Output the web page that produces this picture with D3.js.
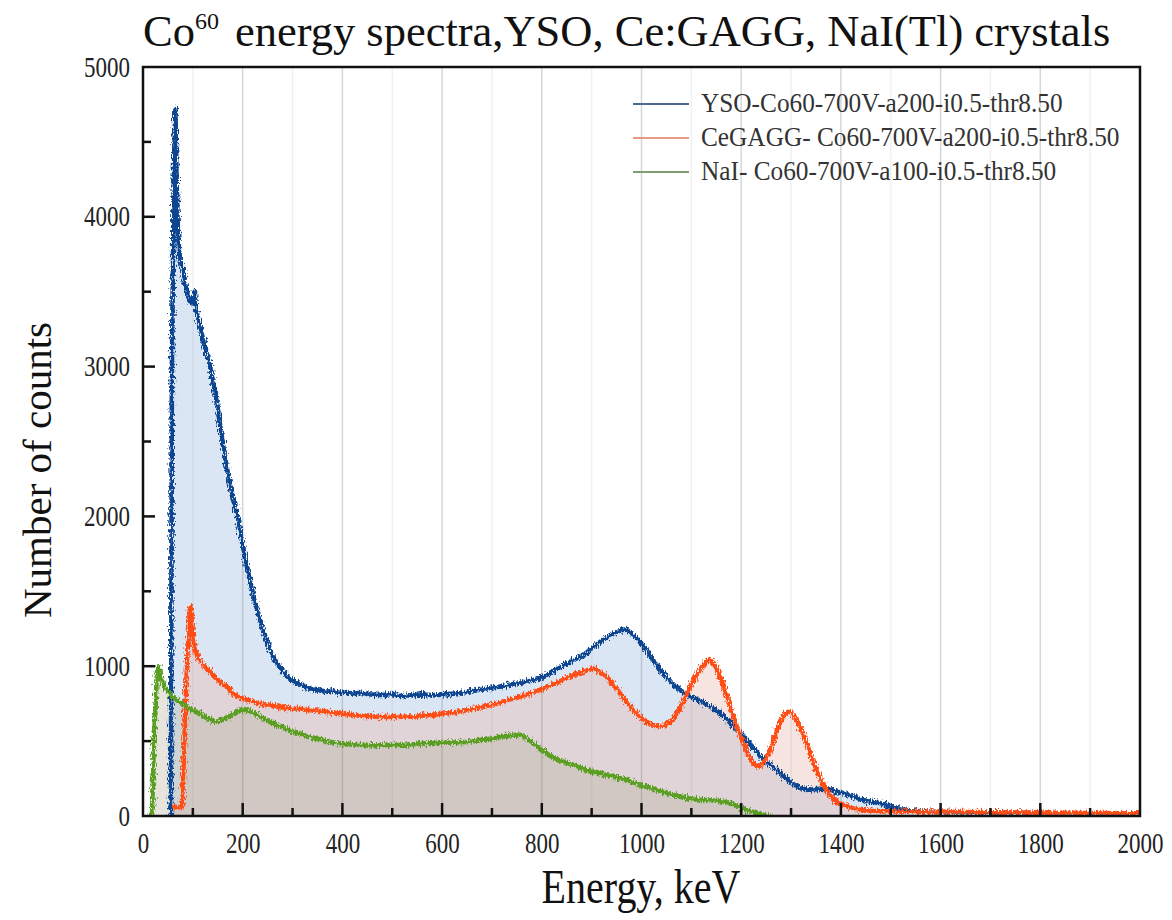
<!DOCTYPE html>
<html>
<head>
<meta charset="utf-8">
<script src="https://cdn.jsdelivr.net/npm/d3@7"></script>
<style>
  html, body { margin: 0; padding: 0; background: #fff; }
  svg { display: block; }
  svg text { font-family: "Liberation Serif", "DejaVu Serif", serif; }
</style>
</head>
<body>
<svg id="chart" width="1172" height="920"></svg>
<script>
// Co-60 spectra, energy (keV) and number of counts for each crystal
const ysoEnergy = [56,58,62,65,67,70,73,76,80,84,88,92,96,100,104,107,110,114,118,122,126,130,134,138,142,146,150,155,160,165,170,175,180,185,190,195,200,205,210,215,220,225,230,235,240,245,250,255,260,265,270,275,280,285,290,295,300,310,320,330,340,350,360,370,380,390,400,420,440,460,480,500,510,520,540,560,580,600,620,640,660,680,700,720,740,760,780,800,820,840,860,880,900,920,940,960,970,980,990,1000,1010,1020,1030,1040,1050,1060,1070,1080,1090,1100,1110,1120,1130,1140,1150,1160,1170,1180,1190,1200,1210,1220,1230,1240,1250,1260,1270,1280,1290,1300,1310,1320,1330,1340,1350,1360,1370,1380,1390,1400,1420,1440,1460,1480,1500,1520,1540,1560,1580,1600,1700,1800,1900,2000];
const ysoCounts = [0,3000,4300,4720,4300,3900,3750,3700,3640,3560,3500,3470,3430,3420,3500,3380,3330,3280,3220,3160,3110,3060,3020,2940,2870,2800,2720,2600,2490,2390,2290,2210,2130,2060,1990,1900,1810,1720,1640,1570,1490,1420,1370,1310,1250,1200,1160,1110,1070,1040,1010,990,970,950,930,915,905,885,870,855,845,840,835,830,838,822,825,818,822,810,808,815,805,800,808,812,805,812,815,825,835,845,858,865,880,890,905,925,960,1000,1035,1070,1120,1170,1210,1240,1245,1215,1190,1150,1110,1060,1010,965,930,890,860,835,815,795,780,765,745,725,705,680,650,615,580,545,510,470,430,395,360,340,310,280,250,225,198,185,178,175,180,182,178,175,165,155,135,110,95,85,65,45,36,32,28,26,22,20,18,15];

const gaggEnergy = [60,65,70,75,78,82,86,90,94,96,98,101,104,108,112,116,120,125,130,135,140,145,150,160,170,180,190,200,210,220,230,240,250,260,270,280,290,300,320,340,360,380,400,420,440,460,480,500,520,540,560,580,600,620,640,660,680,700,720,740,760,780,800,820,840,860,880,900,910,920,930,940,950,960,970,980,990,1000,1010,1020,1030,1040,1050,1060,1070,1080,1090,1100,1110,1120,1130,1135,1140,1150,1160,1170,1180,1190,1200,1210,1220,1230,1240,1250,1260,1270,1280,1290,1295,1300,1310,1320,1330,1340,1350,1360,1370,1380,1390,1400,1420,1440,1460,1500,1600,1700,1800,1900,2000];
const gaggCounts = [55,62,60,58,60,400,800,1150,1390,1400,1300,1180,1120,1080,1050,1030,1010,995,980,960,945,925,910,885,860,820,795,785,775,765,752,748,740,735,730,725,722,718,715,705,700,690,682,675,668,665,662,662,663,665,670,675,682,690,700,715,728,742,760,780,800,820,845,875,905,935,960,985,980,955,930,890,850,805,760,720,685,655,630,610,600,600,612,635,680,740,810,880,940,990,1030,1045,1035,990,910,810,710,610,520,440,370,330,340,380,460,560,640,690,695,690,650,580,500,400,310,240,180,130,100,80,55,40,35,30,28,25,22,20,18];

const naiEnergy = [18,22,28,31,35,40,47,55,65,80,95,110,125,140,150,160,170,180,190,200,210,220,235,250,275,300,325,350,375,400,425,450,475,500,525,550,575,600,625,650,675,700,720,740,755,765,780,800,820,840,860,880,900,920,940,960,980,1000,1020,1040,1060,1080,1100,1120,1140,1160,1180,1200,1220,1240,1260];
const naiCounts = [0,500,960,1000,930,880,840,810,780,745,715,690,660,635,628,640,660,675,700,710,705,690,665,635,598,565,540,515,495,480,476,473,472,474,476,480,486,490,490,495,505,518,530,540,542,530,495,440,395,365,345,320,295,280,265,250,230,205,185,165,145,127,115,108,105,98,85,55,30,10,0];

const seriesNames = [
  "YSO-Co60-700V-a200-i0.5-thr8.50",
  "CeGAGG- Co60-700V-a200-i0.5-thr8.50",
  "NaI- Co60-700V-a100-i0.5-thr8.50"
];

const xTicks = [0,200,400,600,800,1000,1200,1400,1600,1800,2000];
const yTicks = [0,1000,2000,3000,4000,5000];

const series = [
  { name: seriesNames[0], energy: ysoEnergy, counts: ysoCounts, line: "#0d4590", fill: "#dbe6f4", fillOpacity: 1, legend: "#4d6a92" },
  { name: seriesNames[1], energy: gaggEnergy, counts: gaggCounts, line: "#ff4d17", fill: "#e7b8ad", fillOpacity: 0.38, legend: "#e59a86" },
  { name: seriesNames[2], energy: naiEnergy, counts: naiCounts, line: "#5a9f24", fill: "#b8b39a", fillOpacity: 0.35, legend: "#7f9c73" }
];

const svg = d3.select("#chart");
const margin = { left: 143, right: 32, top: 67, bottom: 104 };
const W = 1172, H = 920;
const x = d3.scaleLinear().domain([0, 2000]).range([margin.left, W - margin.right]);
const y = d3.scaleLinear().domain([0, 5000]).range([H - margin.bottom, margin.top]);

const defs = svg.append("defs");
defs.append("clipPath").attr("id", "plotClip")
  .append("rect")
  .attr("x", x(0)).attr("y", y(5000))
  .attr("width", x(2000) - x(0)).attr("height", y(0) - y(5000));

// fine grain on the traces, like a counting spectrum with statistical scatter
const grain = defs.append("filter").attr("id", "grain")
  .attr("x", "-2%").attr("y", "-5%").attr("width", "104%").attr("height", "110%");
grain.append("feTurbulence").attr("type", "fractalNoise")
  .attr("baseFrequency", "0.8 0.3").attr("numOctaves", 2).attr("seed", 3).attr("result", "noise");
grain.append("feDisplacementMap").attr("in", "SourceGraphic").attr("in2", "noise")
  .attr("scale", 8).attr("xChannelSelector", "R").attr("yChannelSelector", "G");

const plot = svg.append("g").attr("clip-path", "url(#plotClip)");

// filled areas under each spectrum
const area = d3.area().x(d => x(d[0])).y0(y(0)).y1(d => y(d[1]));
const line = d3.line().x(d => x(d[0])).y(d => y(d[1]));

series.forEach(s => {
  s.points = s.energy.map((e, i) => [e, s.counts[i]]);
  plot.append("path")
    .datum(s.points)
    .attr("d", area)
    .attr("fill", s.fill)
    .attr("fill-opacity", s.fillOpacity);
});

// vertical grid lines: every 200 keV strong, every 100 keV faint
const gridMinor = d3.range(100, 2000, 200);
const gridMajor = d3.range(200, 2000, 200);
plot.selectAll(".gminor").data(gridMinor).enter().append("line")
  .attr("x1", d => x(d)).attr("x2", d => x(d))
  .attr("y1", y(5000)).attr("y2", y(0))
  .attr("stroke", "#888").attr("stroke-opacity", 0.12).attr("stroke-width", 1.5);
plot.selectAll(".gmajor").data(gridMajor).enter().append("line")
  .attr("x1", d => x(d)).attr("x2", d => x(d))
  .attr("y1", y(5000)).attr("y2", y(0))
  .attr("stroke", "#777").attr("stroke-opacity", 0.3).attr("stroke-width", 1.5);

// spectrum lines
const traces = plot.append("g").attr("filter", "url(#grain)");
series.forEach(s => {
  traces.append("path")
    .datum(s.points)
    .attr("d", line)
    .attr("fill", "none")
    .attr("stroke", s.line)
    .attr("stroke-width", 4.6)
    .attr("stroke-linejoin", "round");
});

// axes: labels from d3 axes, ticks drawn inward
const stretch = 1.25;
const xAxis = d3.axisBottom(x).tickValues(xTicks).tickSize(0).tickFormat(d3.format("d"));
const gx = svg.append("g").attr("transform", `translate(0,${y(0)})`).call(xAxis);
gx.attr("font-family", null).attr("font-size", null);
gx.select(".domain").remove();
gx.selectAll(".tick text")
  .attr("y", null).attr("dy", null)
  .attr("transform", `translate(0,37) scale(1,${stretch})`)
  .attr("font-size", 23).attr("fill", "#222");

const yAxis = d3.axisLeft(y).tickValues(yTicks).tickSize(0).tickFormat(d3.format("d"));
const gy = svg.append("g").attr("transform", `translate(${x(0)},0)`).call(yAxis);
gy.attr("font-family", null).attr("font-size", null);
gy.select(".domain").remove();
gy.selectAll(".tick text")
  .attr("x", null).attr("dy", null)
  .attr("transform", `translate(-13,9) scale(1,${stretch})`)
  .attr("font-size", 23).attr("fill", "#222");

const ticksG = svg.append("g").attr("stroke", "#111");
d3.range(100, 2000, 100).forEach(v => {
  const major = v % 200 === 0;
  ticksG.append("line")
    .attr("x1", x(v)).attr("x2", x(v))
    .attr("y1", y(0)).attr("y2", y(0) - (major ? 13 : 8))
    .attr("stroke-width", 2.5);
});
d3.range(500, 5000, 500).forEach(v => {
  const major = v % 1000 === 0;
  ticksG.append("line")
    .attr("x1", x(0)).attr("x2", x(0) + (major ? 12 : 8))
    .attr("y1", y(v)).attr("y2", y(v))
    .attr("stroke-width", 2.5);
});

// plot frame
svg.append("rect")
  .attr("x", x(0)).attr("y", y(5000))
  .attr("width", x(2000) - x(0)).attr("height", y(0) - y(5000))
  .attr("fill", "none").attr("stroke", "#111").attr("stroke-width", 2.5);

// legend
const legend = svg.append("g");
series.forEach((s, i) => {
  const ly = 104 + i * 34;
  legend.append("line")
    .attr("x1", 633).attr("x2", 689).attr("y1", ly).attr("y2", ly)
    .attr("stroke", s.legend).attr("stroke-width", 2);
  legend.append("text")
    .attr("transform", `translate(701,${ly + 8}) scale(1,1.08)`)
    .attr("font-size", 25.3).attr("fill", "#333")
    .text(s.name);
});

// title
const title = svg.append("text")
  .attr("x", 143).attr("y", 46)
  .attr("font-size", 44.5).attr("fill", "#111");
title.append("tspan").text("Co");
title.append("tspan").attr("font-size", 24).attr("dy", -17).text("60");
title.append("tspan").attr("dy", 17).attr("dx", 16).text("energy spectra,YSO, Ce:GAGG, NaI(Tl) crystals");

// axis titles
svg.append("text")
  .attr("transform", `translate(51,470) rotate(-90)`)
  .attr("text-anchor", "middle")
  .attr("font-size", 41).attr("fill", "#111")
  .text("Number of counts");
svg.append("text")
  .attr("transform", `translate(641,903) scale(1,1.2)`)
  .attr("text-anchor", "middle")
  .attr("font-size", 40).attr("fill", "#111")
  .text("Energy, keV");
</script>
</body>
</html>
